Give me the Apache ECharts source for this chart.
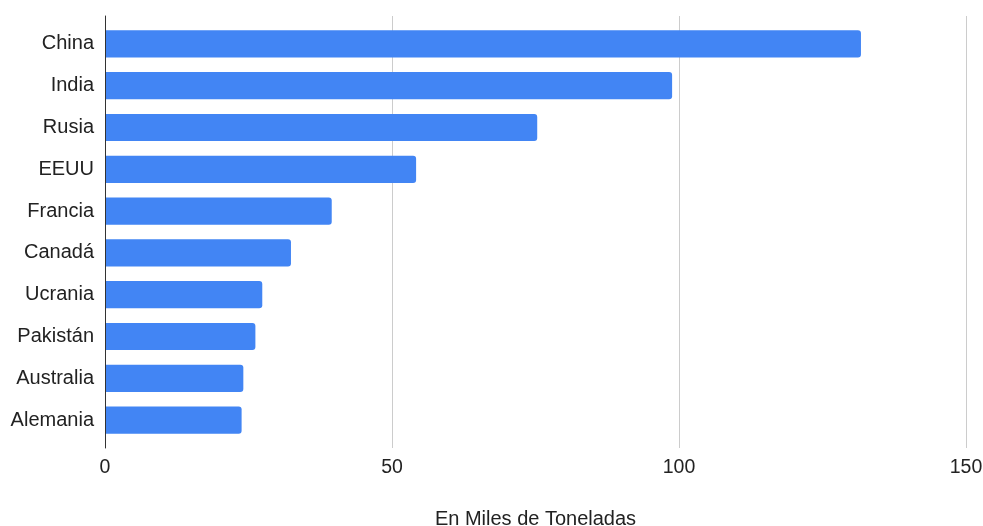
<!DOCTYPE html>
<html><head><meta charset="utf-8">
<script src="https://cdn.jsdelivr.net/npm/echarts@6/dist/echarts.min.js"></script>
<style>html,body{margin:0;padding:0;background:#fff}#c{width:983px;height:526px}</style>
</head><body><div id="c"></div>
<script>
const categories = ["China","India","Rusia","EEUU","Francia","Canadá","Ucrania","Pakistán","Australia","Alemania"];
const values = [131.7, 98.8, 75.3, 54.2, 39.5, 32.4, 27.4, 26.2, 24.1, 23.8];
const xTicks = [0, 50, 100, 150];
const xTitle = "En Miles de Toneladas";

const FONT = 'Liberation Sans';
const chart = echarts.init(document.getElementById('c'));
chart.setOption({
  animation: false,
  grid: [
    { left: 105, right: 17, top: 16, bottom: 78, containLabel: false, outerBoundsMode: 'none' },
    { left: 105, right: 17, top: 23, bottom: 85, containLabel: false, outerBoundsMode: 'none' }
  ],
  xAxis: [{
    gridIndex: 0,
    type: 'value', min: xTicks[0], max: xTicks[xTicks.length-1], interval: 50,
    name: xTitle, nameLocation: 'middle', nameGap: 61,
    nameTextStyle: { fontFamily: FONT, fontSize: 20, color: '#222' },
    axisLine: { show: false }, axisTick: { show: false },
    axisLabel: { fontFamily: FONT, fontSize: 19.5, color: '#222', margin: 10 },
    splitLine: { lineStyle: { color: '#cccccc', width: 1 } }
  }, {
    gridIndex: 1,
    type: 'value', min: xTicks[0], max: xTicks[xTicks.length-1], interval: 50,
    show: false
  }],
  yAxis: [{
    gridIndex: 0, type: 'value', min: 0, max: 1,
    axisLine: { show: true, lineStyle: { color: '#333', width: 1 } },
    axisTick: { show: false }, axisLabel: { show: false }, splitLine: { show: false },
    z: 5
  }, {
    gridIndex: 1,
    type: 'category', data: categories, inverse: true,
    axisLine: { show: false },
    axisTick: { show: false },
    axisLabel: { fontFamily: FONT, fontSize: 20, color: '#222', margin: 11 }
  }],
  series: [{
    type: 'bar', xAxisIndex: 1, yAxisIndex: 1, data: values, barCategoryGap: '35%',
    itemStyle: { color: '#4285F4', borderRadius: [0, 3, 3, 0] }
  }]
});
</script></body></html>
